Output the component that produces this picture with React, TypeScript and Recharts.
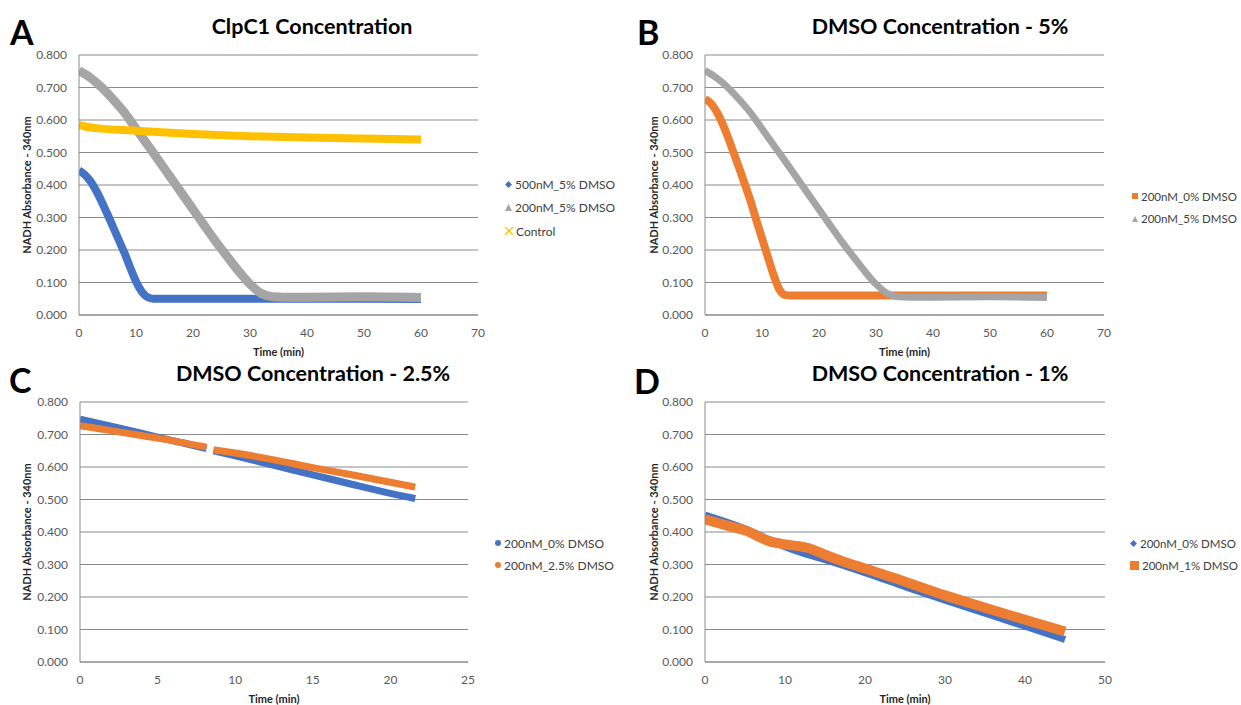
import React from "react";
import { LineChart, Line, XAxis, YAxis, CartesianGrid } from "recharts";

type Pt = { t: number; v: number | null };

// ---- Panel A: ClpC1 concentration ----
const timeA500 = [0, 1, 2, 3, 4, 5, 6, 7, 8, 9, 10, 11, 12, 13, 20, 30, 40, 50, 60];
const absA500 = [0.445, 0.432, 0.412, 0.383, 0.348, 0.31, 0.27, 0.23, 0.19, 0.145, 0.103, 0.072, 0.055, 0.05, 0.05, 0.05, 0.05, 0.05, 0.049];

const time200_5 = [0, 2, 4, 6, 8, 10, 12, 14, 16, 18, 20, 22, 24, 26, 28, 30, 32, 34, 36, 40, 50, 60];
const abs200_5 = [0.752, 0.73, 0.7, 0.663, 0.622, 0.573, 0.524, 0.475, 0.425, 0.375, 0.325, 0.275, 0.226, 0.18, 0.135, 0.095, 0.066, 0.056, 0.055, 0.055, 0.056, 0.054];

const timeControl = [0, 1, 3, 10, 20, 30, 40, 50, 60];
const absControl = [0.585, 0.58, 0.575, 0.567, 0.557, 0.55, 0.546, 0.543, 0.54];

// ---- Panel B: DMSO 5% ----
const timeB0 = [0, 1, 2, 3, 4, 5, 6, 7, 8, 9, 10, 11, 12, 13, 14, 15, 20, 30, 40, 50, 60];
const absB0 = [0.665, 0.652, 0.627, 0.592, 0.548, 0.5, 0.452, 0.402, 0.35, 0.292, 0.236, 0.18, 0.125, 0.08, 0.062, 0.06, 0.06, 0.06, 0.06, 0.06, 0.06];

// ---- Panel C: DMSO 2.5% ----
const timeC = [0, 2.5, 5, 8.15, 8.4, 8.6, 10, 12.5, 15, 17.5, 20, 21.6];
const absC0 = [0.747, 0.72, 0.692, 0.657, null, 0.65, 0.634, 0.605, 0.576, 0.547, 0.519, 0.503];
const absC25 = [0.727, 0.708, 0.689, 0.661, null, 0.653, 0.643, 0.622, 0.598, 0.576, 0.553, 0.538];

// ---- Panel D: DMSO 1% ----
const timeD0 = [0, 5, 10, 12, 15, 20, 25, 30, 35, 40, 45];
const absD0 = [0.452, 0.41, 0.355, 0.337, 0.315, 0.275, 0.232, 0.19, 0.15, 0.11, 0.069];
const timeD1 = [0, 3, 5, 8, 10, 13, 15, 18, 20, 25, 30, 35, 40, 45];
const absD1 = [0.439, 0.418, 0.405, 0.372, 0.362, 0.35, 0.33, 0.303, 0.288, 0.247, 0.205, 0.167, 0.13, 0.094];

const yTicks = [0, 0.1, 0.2, 0.3, 0.4, 0.5, 0.6, 0.7, 0.8];
const xTicks70 = [0, 10, 20, 30, 40, 50, 60, 70];
const xTicks25 = [0, 5, 10, 15, 20, 25];
const xTicks50 = [0, 10, 20, 30, 40, 50];

const zip = (ts: number[], vs: (number | null)[]): Pt[] => ts.map((t, i) => ({ t, v: vs[i] }));

const BLUE = "#4472C4";
const ORANGE = "#ED7D31";
const GRAY = "#A5A5A5";
const YELLOW = "#FFC000";
const FONT = "Lato, 'Liberation Sans', sans-serif";

type Marker = "diamond" | "triangle" | "x" | "square" | "circle";
type Series = { name: string; color: string; width: number; data: Pt[]; marker: Marker; size?: number };

const MarkerIcon = ({ m, color, size = 7 }: { m: Marker; color: string; size?: number }) => {
  const s = size;
  const h = s / 2;
  return (
    <svg width={s + 2} height={s + 2} style={{ marginRight: 2, flexShrink: 0 }}>
      <g transform={`translate(${h + 1},${h + 1})`}>
        {m === "diamond" && <polygon points={`0,${-h} ${h},0 0,${h} ${-h},0`} fill={color} />}
        {m === "triangle" && <polygon points={`0,${-h} ${h},${h} ${-h},${h}`} fill={color} />}
        {m === "square" && <rect x={-h} y={-h} width={s} height={s} fill={color} />}
        {m === "circle" && <circle r={h} fill={color} />}
        {m === "x" && (
          <path d={`M${-h},${-h}L${h},${h}M${h},${-h}L${-h},${h}`} stroke={color} strokeWidth={1.3} />
        )}
      </g>
    </svg>
  );
};

type PanelProps = {
  left: number;
  top: number;
  width: number;
  height: number;
  plot: { x0: number; x1: number; y0: number; y1: number };
  xMax: number;
  xTicks: number[];
  series: Series[];
  title: string;
  titleX: number;
  titleY: number;
  letter: string;
  letterX: number;
  letterY: number;
  xLabelY: number;
  yLabelX: number;
  legend: { x: number; y: number; gap: number; size: number };
};

const Panel = (p: PanelProps) => {
  const yW = 60;
  const xH = 30;
  const margin = {
    top: p.plot.y0,
    left: p.plot.x0 - yW,
    right: p.width - p.plot.x1,
    bottom: p.height - p.plot.y1 - xH,
  };
  const cx = (p.plot.x0 + p.plot.x1) / 2;
  const cy = (p.plot.y0 + p.plot.y1) / 2;
  return (
    <div style={{ position: "absolute", left: p.left, top: p.top, width: p.width, height: p.height }}>
      <LineChart width={p.width} height={p.height} margin={margin}>
        <CartesianGrid vertical={false} stroke="#8a8a8a" strokeWidth={1} />
        <XAxis
          type="number"
          dataKey="t"
          domain={[0, p.xMax]}
          ticks={p.xTicks}
          height={xH}
          tickLine={false}
          tickSize={0}
          tickMargin={13}
          axisLine={{ stroke: "#8a8a8a" }}
          tick={{ fontSize: 12, fill: "#595959", fontFamily: FONT }}
          allowDataOverflow
        />
        <YAxis
          type="number"
          domain={[0, 0.8]}
          ticks={yTicks}
          width={yW}
          tickLine={false}
          tickSize={0}
          tickMargin={12}
          axisLine={{ stroke: "#8a8a8a" }}
          tickFormatter={(v: number) => v.toFixed(3)}
          tick={{ fontSize: 12, fill: "#595959", fontFamily: FONT }}
        />
        {p.series.map((s) => (
          <Line
            key={s.name}
            data={s.data}
            dataKey="v"
            name={s.name}
            type="monotone"
            stroke={s.color}
            strokeWidth={s.width}
            strokeLinejoin="round"
            dot={false}
            connectNulls={false}
            isAnimationActive={false}
          />
        ))}
      </LineChart>
      <div
        style={{
          position: "absolute",
          left: p.titleX - 200,
          width: 400,
          top: p.titleY,
          textAlign: "center",
          fontFamily: FONT,
          fontWeight: 700,
          fontSize: 21.5,
          color: "#000",
          lineHeight: "26px",
          whiteSpace: "nowrap",
        }}
      >
        {p.title}
      </div>
      <div
        style={{
          position: "absolute",
          left: p.letterX,
          top: p.letterY,
          fontFamily: FONT,
          fontWeight: 700,
          fontSize: 34,
          lineHeight: "34px",
          color: "#000",
        }}
      >
        {p.letter}
      </div>
      <div
        style={{
          position: "absolute",
          left: cx - 60,
          width: 120,
          top: p.xLabelY,
          textAlign: "center",
          fontFamily: FONT,
          fontWeight: 700,
          fontSize: 11,
          lineHeight: "14px",
          color: "#262626",
        }}
      >
        Time (min)
      </div>
      <div
        style={{
          position: "absolute",
          left: p.yLabelX - 100,
          top: cy - 7,
          width: 200,
          textAlign: "center",
          transform: "rotate(-90deg)",
          fontFamily: FONT,
          fontWeight: 700,
          fontSize: 11,
          lineHeight: "14px",
          color: "#262626",
        }}
      >
        NADH Absorbance - 340nm
      </div>
      {p.series.map((s, i) => (
        <div
          key={s.name}
          style={{
            position: "absolute",
            left: p.legend.x,
            top: p.legend.y + i * p.legend.gap - 8,
            height: 16,
            display: "flex",
            alignItems: "center",
            fontFamily: FONT,
            fontSize: p.legend.size,
            color: "#404040",
            whiteSpace: "nowrap",
          }}
        >
          <MarkerIcon m={s.marker} color={s.color} size={s.size} />
          {s.name}
        </div>
      ))}
    </div>
  );
};

export default function App() {
  const seriesA: Series[] = [
    { name: "500nM_5% DMSO", color: BLUE, width: 8, data: zip(timeA500, absA500), marker: "diamond", size: 7 },
    { name: "200nM_5% DMSO", color: GRAY, width: 9, data: zip(time200_5, abs200_5), marker: "triangle", size: 7 },
    { name: "Control", color: YELLOW, width: 8, data: zip(timeControl, absControl), marker: "x", size: 8 },
  ];
  const seriesB: Series[] = [
    { name: "200nM_0% DMSO", color: ORANGE, width: 8, data: zip(timeB0, absB0), marker: "square", size: 6 },
    { name: "200nM_5% DMSO", color: GRAY, width: 7, data: zip(time200_5, abs200_5), marker: "triangle", size: 6 },
  ];
  const seriesC: Series[] = [
    { name: "200nM_0% DMSO", color: BLUE, width: 7, data: zip(timeC, absC0), marker: "circle", size: 6 },
    { name: "200nM_2.5% DMSO", color: ORANGE, width: 7, data: zip(timeC, absC25), marker: "circle", size: 6 },
  ];
  const seriesD: Series[] = [
    { name: "200nM_0% DMSO", color: BLUE, width: 7, data: zip(timeD0, absD0), marker: "diamond", size: 7 },
    { name: "200nM_1% DMSO", color: ORANGE, width: 10, data: zip(timeD1, absD1), marker: "square", size: 9 },
  ];

  return (
    <div
      style={{
        position: "absolute",
        left: 0,
        top: 0,
        width: 1241,
        height: 705,
        background: "#fff",
        overflow: "hidden",
      }}
    >
      <Panel
        left={0}
        top={0}
        width={620}
        height={350}
        plot={{ x0: 79, x1: 478, y0: 55, y1: 315 }}
        xMax={70}
        xTicks={xTicks70}
        series={seriesA}
        title="ClpC1 Concentration"
        titleX={312}
        titleY={13}
        letter="A"
        letterX={10}
        letterY={15}
        xLabelY={345}
        yLabelX={27}
        legend={{ x: 504, y: 184, gap: 23.5, size: 12 }}
      />
      <Panel
        left={620}
        top={0}
        width={621}
        height={350}
        plot={{ x0: 85, x1: 484, y0: 55, y1: 315 }}
        xMax={70}
        xTicks={xTicks70}
        series={seriesB}
        title="DMSO Concentration - 5%"
        titleX={320}
        titleY={13}
        letter="B"
        letterX={17}
        letterY={15}
        xLabelY={345}
        yLabelX={34}
        legend={{ x: 511, y: 196, gap: 22.5, size: 11.5 }}
      />
      <Panel
        left={0}
        top={350}
        width={620}
        height={355}
        plot={{ x0: 80, x1: 468, y0: 52, y1: 312 }}
        xMax={25}
        xTicks={xTicks25}
        series={seriesC}
        title="DMSO Concentration - 2.5%"
        titleX={313}
        titleY={10}
        letter="C"
        letterX={9}
        letterY={13}
        xLabelY={342}
        yLabelX={27}
        legend={{ x: 494, y: 193, gap: 22, size: 12 }}
      />
      <Panel
        left={620}
        top={350}
        width={621}
        height={355}
        plot={{ x0: 85, x1: 485, y0: 52, y1: 312 }}
        xMax={50}
        xTicks={xTicks50}
        series={seriesD}
        title="DMSO Concentration - 1%"
        titleX={320}
        titleY={10}
        letter="D"
        letterX={14}
        letterY={14}
        xLabelY={342}
        yLabelX={34}
        legend={{ x: 509, y: 193, gap: 22, size: 11.5 }}
      />
    </div>
  );
}
